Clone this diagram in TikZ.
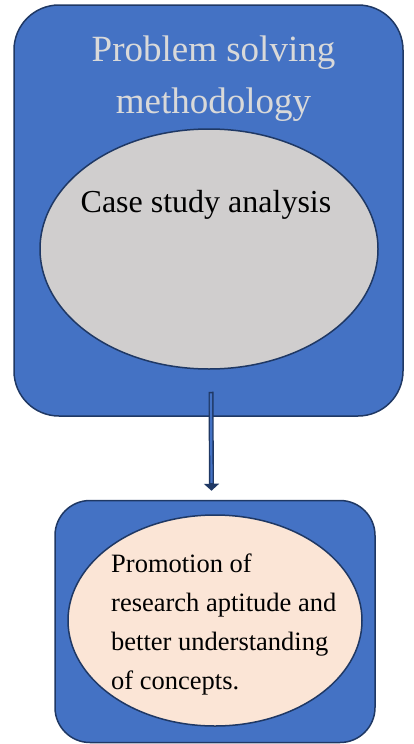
\documentclass[tikz,border=0pt]{standalone}
\usepackage{fontspec}
\setmainfont{Liberation Serif}
\usepackage{tikz}
\usetikzlibrary{shapes.geometric,arrows.meta,calc}
\definecolor{boxblue}{HTML}{4472C4}
\definecolor{navy}{HTML}{1F3864}
\definecolor{ovalgray}{HTML}{D0CECE}
\definecolor{ovalpeach}{HTML}{FBE5D6}
\definecolor{titlegray}{HTML}{D9D9D9}
\tikzstyle{outer}=[draw=navy, fill=boxblue, line width=1.5pt, rounded corners=45pt, inner sep=0pt]
\tikzstyle{oval}=[ellipse, draw=navy, line width=1.5pt, inner sep=0pt]

\begin{document}
\begin{tikzpicture}[x=1pt,y=-1pt]
\useasboundingbox (0,0) rectangle (414,744);
\node[outer, minimum width=389pt, minimum height=411pt] (method) at (208.5,210.5) {};
\node[outer, rounded corners=35pt, minimum width=320pt, minimum height=242pt] (result) at (215,621.5) {};
\node[oval, fill=ovalgray, minimum width=338pt, minimum height=240pt] (case) at (209,249) {};
\node[oval, fill=ovalpeach, minimum width=294pt, minimum height=211pt] (promo) at (215,620.5) {};
\node[anchor=base, text=titlegray, font=\fontsize{37}{52}\selectfont] (title1) at (213.5,61) {Problem solving};
\node[anchor=base, text=titlegray, font=\fontsize{37}{52}\selectfont] (title2) at (213.5,113) {methodology};
\node[anchor=base, font=\fontsize{32}{38}\selectfont] (casetxt) at (206,212) {Case study analysis};
\node[anchor=base west, inner sep=0pt, align=left, font=\fontsize{26.5}{39}\selectfont] (promotxt) at (111,689) {Promotion of\\research aptitude and\\better understanding\\of concepts.};
\coordinate (a1) at ($(method.south)+(2.5,-25)$);
\coordinate (a2) at ($(result.north)+(-3.5,-9)$);
\draw[navy, line width=5pt, -{Triangle[width=15pt,length=7pt]}] (a1) -- (a2);
\draw[boxblue, line width=2.2pt] ($(a1)+(0,1.6)$) -- ($(a2)+(0,-8)$);
\end{tikzpicture}
\end{document}
